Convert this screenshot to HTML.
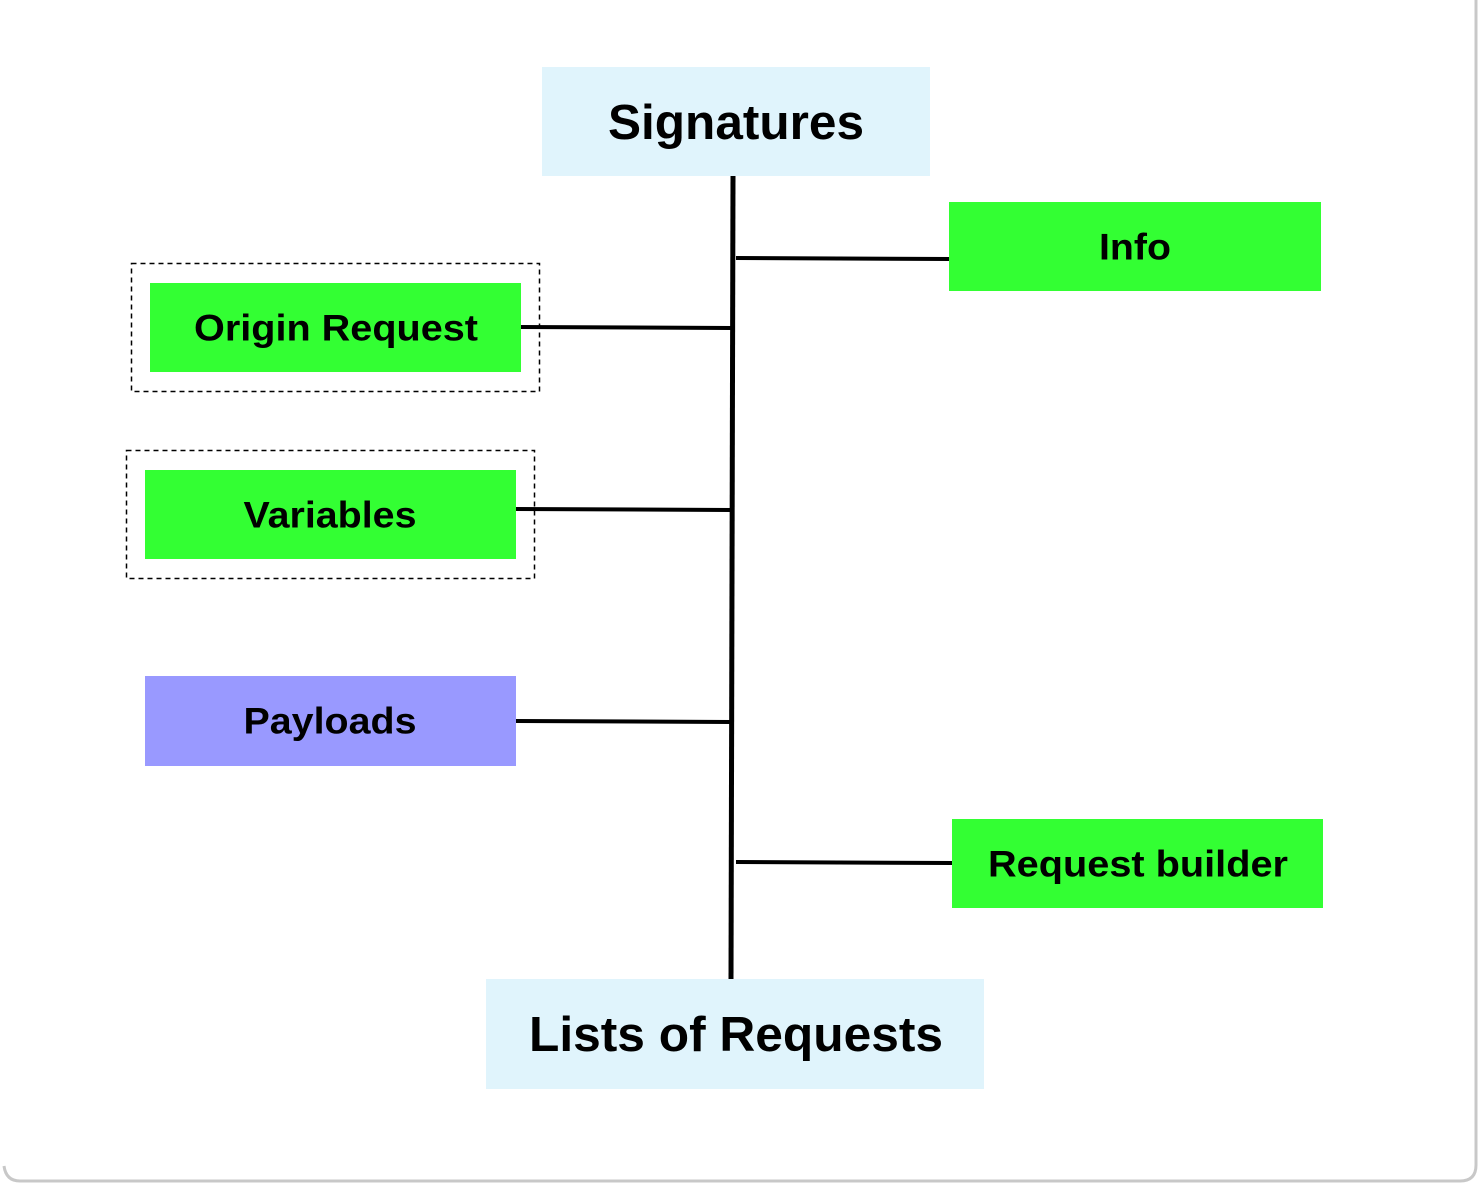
<!DOCTYPE html>
<html><head><meta charset="utf-8"><style>
html,body{margin:0;padding:0;background:#fff;}
svg{display:block;}
text{font-family:"Liberation Sans",Arial,sans-serif;font-weight:bold;fill:#000;text-anchor:middle;dominant-baseline:central;}
</style></head><body>
<svg width="1480" height="1186" viewBox="0 0 1480 1186" xmlns="http://www.w3.org/2000/svg">
<path d="M4 1166 Q6 1181 20 1181 L1460 1181 Q1476 1181 1476 1165 L1476 -5" fill="none" stroke="#c8c8c8" stroke-width="3"/>
<line x1="733" y1="176" x2="731" y2="980" stroke="#000" stroke-width="5"/>
<line x1="736" y1="258" x2="950" y2="259" stroke="#000" stroke-width="4"/>
<line x1="520" y1="327" x2="731" y2="328" stroke="#000" stroke-width="4"/>
<line x1="516" y1="509" x2="731" y2="510" stroke="#000" stroke-width="4"/>
<line x1="516" y1="721" x2="731" y2="722" stroke="#000" stroke-width="4"/>
<line x1="736" y1="862" x2="952" y2="863" stroke="#000" stroke-width="4"/>
<rect x="131.5" y="263.5" width="408" height="128" fill="none" stroke="#000" stroke-width="1.5" stroke-dasharray="5,4"/>
<rect x="126.5" y="450.5" width="408" height="128" fill="none" stroke="#000" stroke-width="1.5" stroke-dasharray="5,4"/>
<rect x="542" y="67" width="388" height="109" fill="#e0f4fc"/>
<text x="736" y="123" font-size="49" textLength="256" lengthAdjust="spacingAndGlyphs">Signatures</text>
<rect x="949" y="202" width="372" height="89" fill="#33ff33"/>
<text x="1135" y="247" font-size="37" textLength="72" lengthAdjust="spacingAndGlyphs">Info</text>
<rect x="150" y="283" width="371" height="89" fill="#33ff33"/>
<text x="336" y="328" font-size="37" textLength="284" lengthAdjust="spacingAndGlyphs">Origin Request</text>
<rect x="145" y="470" width="371" height="89" fill="#33ff33"/>
<text x="330" y="515" font-size="37" textLength="173" lengthAdjust="spacingAndGlyphs">Variables</text>
<rect x="145" y="676" width="371" height="90" fill="#9999ff"/>
<text x="330" y="721" font-size="37" textLength="173" lengthAdjust="spacingAndGlyphs">Payloads</text>
<rect x="952" y="819" width="371" height="89" fill="#33ff33"/>
<text x="1138" y="864" font-size="37" textLength="300" lengthAdjust="spacingAndGlyphs">Request builder</text>
<rect x="486" y="979" width="498" height="110" fill="#e0f4fc"/>
<text x="736" y="1035" font-size="49" textLength="414" lengthAdjust="spacingAndGlyphs">Lists of Requests</text>
</svg>
</body></html>
